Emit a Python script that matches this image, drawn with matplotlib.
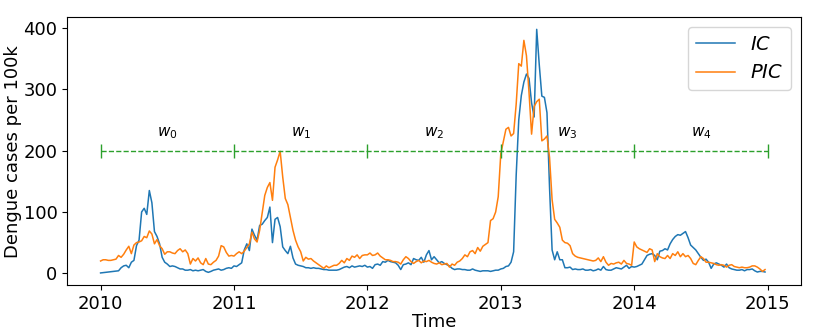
import numpy as np
import matplotlib.pyplot as plt

# --- DATOS ---

# casos semanales por 100k, un bloque de 52 semanas por año
ic_2010 = [0.5, 1, 1.5, 2, 2.5, 3, 3.5, 4, 9, 12, 13, 9, 18, 21, 45, 54,
           100, 106, 96, 135, 115, 68, 60, 48, 26, 18, 15, 11, 12, 11, 9, 7,
           7, 5, 5, 6, 4, 5, 4, 5, 6, 3, 1.5, 3, 5, 6, 7, 5, 6, 8, 9, 8]
ic_2011 = [12, 11, 14, 17, 38, 48, 37, 72, 62, 54, 78, 80, 86, 91, 108, 50,
           88, 91, 76, 43, 37, 32, 44, 25, 15, 13, 12, 11, 9, 9, 8, 9,
           8, 8, 7, 6, 6, 5, 5, 5, 5, 6, 8, 10, 11, 9, 12, 10, 11, 12, 11, 13]
ic_2012 = [10, 11, 8, 14, 15, 13, 19, 18, 21, 19, 18, 17, 13, 6, 14, 15,
           17, 14, 24, 22, 21, 26, 18, 30, 37, 22, 27, 22, 17, 19, 16, 14,
           12, 8, 6, 7, 7, 6, 6, 5, 5, 7, 5, 4, 3, 4, 4, 4, 3, 4, 5, 5]
ic_2013 = [7, 8, 11, 12, 18, 35, 160, 250, 290, 312, 325, 318, 278, 255, 398, 340,
           289, 287, 262, 140, 38, 22, 35, 22, 22, 9, 9, 10, 6, 7, 6, 6,
           7, 5, 5, 6, 4, 5, 7, 5, 11, 6, 5, 5, 7, 9, 8, 7, 10, 13, 8, 11]
ic_2014 = [10, 11, 13, 15, 22, 29, 31, 32, 29, 22, 36, 37, 40, 38, 48, 55,
           60, 63, 62, 65, 68, 58, 46, 42, 38, 32, 26, 21, 23, 18, 8, 15,
           17, 15, 13, 10, 15, 9, 7, 6, 5, 5, 6, 4, 6, 6, 7, 4, 2, 3, 3, 2]

pic_2010 = [20, 22, 22, 21, 21, 22, 23, 29, 26, 31, 38, 44, 32, 46, 50, 51,
            53, 60, 58, 69, 64, 48, 55, 45, 40, 31, 35, 35, 33, 32, 37, 40,
            35, 38, 32, 15, 24, 20, 25, 17, 14, 24, 15, 14, 18, 21, 28, 45, 43, 34, 28, 29]
pic_2011 = [28, 32, 35, 32, 36, 42, 48, 67, 56, 51, 70, 98, 127, 140, 148, 119,
            173, 185, 199, 157, 122, 112, 91, 70, 54, 43, 35, 20, 26, 23, 24, 20,
            17, 14, 11, 8, 12, 9, 11, 13, 13, 16, 21, 17, 24, 21, 28, 26, 30, 24, 29, 30]
pic_2012 = [30, 33, 29, 30, 33, 28, 25, 22, 22, 21, 19, 19, 18, 15, 22, 27,
            24, 19, 16, 19, 21, 17, 20, 19, 21, 18, 16, 15, 17, 14, 15, 16,
            10, 15, 13, 18, 20, 24, 30, 27, 35, 37, 32, 42, 36, 44, 47, 50, 86, 89, 100, 125]
pic_2013 = [195, 215, 235, 238, 224, 228, 276, 342, 338, 380, 355, 295, 227, 272, 280, 284,
            216, 219, 224, 189, 120, 88, 82, 75, 54, 50, 49, 45, 32, 28, 26, 25,
            24, 23, 22, 21, 20, 21, 25, 19, 27, 18, 13, 16, 15, 17, 18, 15, 21, 16, 15, 13]
pic_2014 = [51, 43, 40, 38, 36, 34, 40, 38, 19, 32, 27, 25, 24, 29, 24, 32,
            29, 35, 27, 32, 27, 29, 24, 16, 14, 21, 27, 24, 18, 18, 17, 16,
            14, 13, 14, 13, 10, 13, 14, 11, 10, 9, 10, 9, 9, 10, 12, 12, 10, 7, 3, 6]

ic = ic_2010 + ic_2011 + ic_2012 + ic_2013 + ic_2014
pic = pic_2010 + pic_2011 + pic_2012 + pic_2013 + pic_2014

# ventanas
anios = [2010, 2011, 2012, 2013, 2014, 2015]
nivel = 200
etiquetas = ['$w_0$', '$w_1$', '$w_2$', '$w_3$', '$w_4$']

# --- PROCEDIMIENTO ---

t = 2010 + np.arange(len(ic))/52  # tiempo en años

fig = plt.figure(figsize=(8.3, 3.3), dpi=100)
ax = fig.add_axes([0.081, 0.136, 0.884, 0.812])

ax.plot(t, ic, color='tab:blue', linewidth=1.1, label='$IC$')
ax.plot(t, pic, color='tab:orange', linewidth=1.1, label='$PIC$')

ax.plot(anios, [nivel]*len(anios), '--', color='tab:green', linewidth=1,
        marker='|', markersize=10, markeredgewidth=1)
for i in range(len(etiquetas)):
    ax.text((anios[i] + anios[i+1])/2, nivel + 15, etiquetas[i],
            ha='center', va='bottom', fontsize=11)

ax.set_xticks(anios)
ax.set_xticklabels([str(a) for a in anios])
ax.set_yticks([0, 100, 200, 300, 400])
ax.tick_params(labelsize=13)
ax.set_xlabel('Time', fontsize=13, labelpad=0)
ax.set_ylabel('Dengue cases per 100k', fontsize=13, labelpad=1)
ax.legend(loc='upper right', fontsize=14)

plt.savefig('out.png')
